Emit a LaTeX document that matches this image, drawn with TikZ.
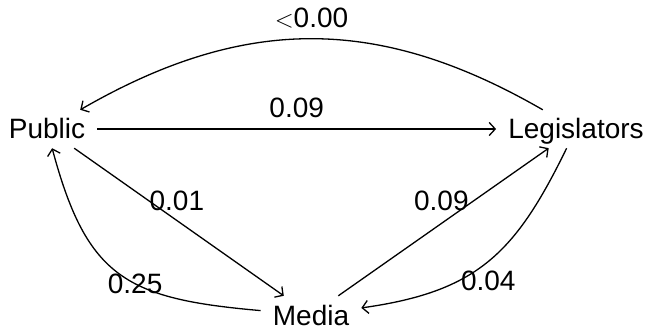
\documentclass[tikz,border=0pt]{standalone}
\usepackage{fontspec}
\setmainfont{Liberation Sans}
\usetikzlibrary{arrows.meta,positioning}
\tikzset{
  actor/.style ={inner xsep=12pt,inner ysep=9pt,text height=20pt,text depth=0pt,
                 font=\fontsize{28}{34}\selectfont},
  wt/.style    ={inner sep=2pt,text height=20pt,text depth=0pt,
                 font=\fontsize{28}{34}\selectfont},
  ed/.style    ={->,draw=black,line width=1.3pt},
}

\begin{document}
\begin{tikzpicture}[
    > = {Straight Barb[length=6pt,width=13pt]}, % arrow head style
    x=1pt, y=1pt
]
\useasboundingbox (0,0) rectangle (649,330);

% Nodes
\node[actor] (pub) at (47,201) {Public};
\node[actor] (leg) at (576,201) {Legislators};
\node[actor] (med) at (311,15) {Media};

% Edges, labelled by weight
\draw[ed] (pub) -- node[wt, above=9pt] {0.09} (leg);
\draw[ed] (leg) to[out=150,in=30,looseness=1.05] node[wt, above=9pt] {$<$0.00} (pub);
\draw[ed] (pub) -- node[wt, pos=.49, above=7pt] {0.01} (med);
\draw[ed] (med) -- node[wt, pos=.49, above=10pt] {0.09} (leg);
\draw[ed] (med) to[out=175,in=-75,looseness=1.3] node[wt, pos=.42] {0.25} (pub);
\draw[ed] (leg) to[out=-116,in=8,looseness=1.15] node[wt, pos=.65, right] {0.04} (med);

\end{tikzpicture}
\end{document}
